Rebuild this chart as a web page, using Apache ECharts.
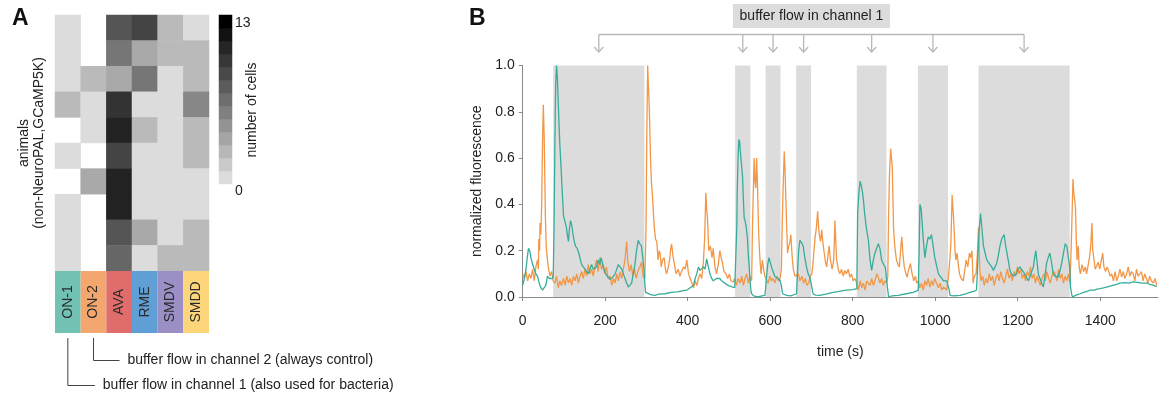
<!DOCTYPE html>
<html><head><meta charset="utf-8">
<script src="https://cdn.jsdelivr.net/npm/echarts@6/dist/echarts.min.js"></script>
<style>html,body{margin:0;padding:0;background:#fff}#c{width:1161px;height:400px}</style>
</head><body><div id="c"></div>
<script>
// ---------- Panel A data ----------
const cellTypes = ['ON-1', 'ON-2', 'AVA', 'RME', 'SMDV', 'SMDD'];
const cellColors = ['#72c2b4', '#f3a76f', '#e06c6c', '#5f9fd5', '#9c8fc6', '#fdd67c'];
const animalRows = ['1','2','3','4','5','6','7','8','9','10'];
// number of cells per animal (rows) and cell type (columns); null = not observed
const cellCounts = [
  [0, null, 8, 9, 2, 0],
  [0, null, 6, 3, 2, 2],
  [0, 2, 3, 6, 0, 2],
  [2, 0, 10, 0, 0, 5],
  [null, 0, 11, 2, 0, 2],
  [0, null, 9, 0, 0, 2],
  [null, 3, 11, 0, 0, 0],
  [0, null, 11, 0, 0, 0],
  [0, null, 8, 3, 0, 2],
  [0, null, 7, 0, 2, 2]
];
const countMax = 13;
const colorbarSteps = ['0','1','2','3','4','5','6','7','8','9','10','11','12'];

// ---------- Panel B data ----------
// buffer flow in channel 1 intervals (s)
const bufferOn = [[74, 295], [515, 552], [589, 625], [663, 699], [810, 882], [958, 1031], [1105, 1326]];
const xTicks = { min: 0, max: 1540, interval: 200 };
// ON-2 trace (orange): [time (s), normalized fluorescence]
const on2Trace = [
[0,.10],[4,.08],[8,.11],[12,.07],[16,.10],[20,.08],[24,.12],[28,.07],[32,.13],[36,.16],[38,.12],[39,.25],[41,.20],[42,.32],[44,.27],[46,.40],[48,.66],[50,.83],[52,.70],[53,.59],[55,.35],[57,.22],[60,.16],[62,.13],[66,.09],[70,.11],[74,.07],[78,.06],[82,.09],[86,.04],[90,.07],[94,.05],[99,.08],[103,.05],[107,.09],[111,.06],[115,.08],[119,.05],[123,.09],[127,.07],[131,.10],[135,.06],[139,.09],[143,.11],[147,.08],[151,.12],[155,.09],[159,.14],[163,.10],[167,.12],[171,.09],[175,.13],[179,.16],[183,.11],[187,.17],[191,.12],[195,.14],[199,.10],[203,.13],[207,.08],[212,.09],[216,.05],[220,.08],[224,.06],[228,.10],[232,.07],[236,.11],[240,.08],[244,.12],[248,.16],[252,.24],[255,.15],[259,.11],[263,.14],[267,.09],[271,.12],[275,.08],[279,.11],[284,.13],[288,.15],[292,.09],[296,.08],[299,.30],[301,.73],[303,1.0],[305,.90],[307,.81],[310,.59],[312,.50],[314,.45],[317,.36],[319,.30],[322,.25],[325,.24],[328,.16],[331,.20],[333,.19],[336,.13],[339,.16],[343,.17],[346,.12],[349,.10],[353,.13],[356,.16],[359,.21],[361,.23],[364,.18],[368,.14],[372,.10],[377,.12],[381,.09],[385,.11],[390,.13],[394,.12],[398,.16],[402,.10],[406,.08],[410,.06],[414,.04],[418,.07],[422,.05],[426,.08],[430,.10],[434,.08],[438,.15],[441,.25],[444,.45],[446,.38],[448,.34],[451,.20],[455,.22],[459,.17],[462,.21],[466,.13],[470,.10],[474,.14],[478,.20],[481,.17],[484,.15],[488,.11],[493,.10],[497,.08],[501,.10],[505,.07],[510,.065],[514,.08],[518,.05],[522,.08],[527,.06],[531,.09],[535,.05],[539,.08],[543,.10],[547,.06],[551,.09],[555,.07],[557,.30],[559,.45],[561,.60],[563,.50],[565,.47],[567,.60],[569,.50],[570,.42],[572,.28],[574,.20],[576,.14],[578,.10],[581,.16],[584,.12],[587,.09],[591,.086],[595,.06],[599,.09],[603,.07],[607,.08],[611,.06],[616,.09],[620,.07],[624,.08],[627,.12],[629,.30],[631,.45],[634,.63],[636,.55],[638,.42],[640,.30],[642,.19],[645,.22],[648,.24],[650,.27],[653,.18],[656,.12],[660,.09],[664,.086],[668,.10],[672,.07],[677,.09],[681,.06],[685,.08],[689,.05],[693,.06],[697,.09],[701,.10],[704,.15],[707,.22],[709,.26],[712,.30],[715,.37],[717,.31],[719,.27],[722,.24],[725,.29],[728,.23],[731,.19],[734,.15],[737,.13],[740,.18],[743,.22],[746,.16],[750,.12],[754,.16],[757,.33],[759,.24],[761,.16],[765,.12],[769,.10],[773,.12],[777,.09],[781,.115],[785,.10],[789,.12],[793,.086],[797,.10],[801,.07],[805,.08],[810,.06],[814,.03],[818,.07],[822,.04],[826,.06],[830,.03],[834,.07],[838,.065],[842,.05],[846,.08],[850,.05],[854,.07],[858,.10],[862,.086],[866,.06],[870,.08],[874,.05],[878,.07],[882,.06],[885,.086],[887,.35],[889,.52],[892,.64],[894,.60],[896,.56],[899,.30],[902,.22],[906,.16],[910,.14],[913,.13],[916,.20],[919,.26],[922,.18],[925,.13],[929,.10],[932,.086],[936,.12],[940,.145],[944,.10],[948,.07],[952,.09],[955,.06],[959,.07],[963,.04],[967,.06],[971,.03],[975,.07],[979,.05],[983,.08],[987,.043],[991,.07],[995,.05],[999,.08],[1003,.06],[1008,.04],[1012,.06],[1016,.03],[1020,.043],[1024,.05],[1028,.03],[1032,.086],[1035,.15],[1038,.23],[1041,.44],[1043,.38],[1045,.33],[1048,.20],[1050,.16],[1053,.19],[1056,.14],[1059,.10],[1063,.08],[1068,.07],[1072,.12],[1075,.16],[1079,.13],[1083,.19],[1086,.17],[1089,.20],[1092,.06],[1095,.09],[1099,.10],[1102,.18],[1105,.30],[1108,.12],[1111,.07],[1115,.09],[1119,.05],[1123,.08],[1127,.06],[1131,.10],[1135,.07],[1139,.09],[1143,.05],[1147,.08],[1151,.10],[1155,.07],[1159,.11],[1163,.08],[1167,.06],[1171,.09],[1175,.12],[1179,.08],[1183,.10],[1187,.07],[1191,.11],[1195,.09],[1199,.13],[1203,.10],[1207,.12],[1211,.08],[1215,.10],[1219,.07],[1223,.11],[1227,.09],[1231,.13],[1235,.08],[1239,.10],[1243,.06],[1247,.09],[1251,.07],[1255,.05],[1259,.08],[1263,.10],[1267,.07],[1271,.11],[1275,.08],[1279,.06],[1283,.09],[1287,.11],[1291,.10],[1295,.07],[1299,.12],[1303,.08],[1307,.10],[1311,.06],[1315,.09],[1319,.07],[1323,.10],[1327,.06],[1329,.18],[1331,.30],[1334,.51],[1336,.45],[1338,.42],[1340,.39],[1342,.25],[1344,.16],[1347,.22],[1349,.13],[1352,.10],[1356,.14],[1360,.11],[1364,.13],[1367,.10],[1371,.14],[1374,.17],[1377,.22],[1380,.32],[1382,.20],[1385,.16],[1388,.12],[1391,.115],[1395,.15],[1399,.12],[1403,.16],[1406,.19],[1409,.13],[1413,.11],[1417,.13],[1420,.115],[1424,.09],[1428,.10],[1432,.07],[1436,.11],[1440,.07],[1444,.09],[1448,.12],[1452,.086],[1456,.11],[1460,.08],[1464,.10],[1468,.13],[1472,.09],[1476,.11],[1480,.10],[1484,.07],[1488,.12],[1492,.09],[1496,.09],[1500,.11],[1504,.07],[1508,.10],[1512,.08],[1516,.06],[1520,.09],[1524,.07],[1529,.06],[1533,.08],[1537,.05]
];
// ON-1 trace (teal)
const on1Trace = [
[0,.05],[4,.08],[8,.12],[11,.17],[14,.21],[17,.20],[20,.17],[24,.14],[28,.12],[32,.10],[36,.09],[40,.06],[44,.04],[48,.03],[52,.035],[56,.05],[60,.09],[64,.08],[68,.085],[72,.08],[74,.09],[76,.30],[78,.66],[80,.92],[82,1.0],[84,.95],[86,.85],[88,.75],[90,.66],[93,.56],[96,.45],[99,.35],[102,.33],[106,.30],[109,.26],[111,.24],[113,.29],[116,.33],[119,.31],[122,.27],[125,.24],[128,.22],[132,.21],[136,.19],[140,.16],[143,.14],[147,.13],[151,.12],[155,.11],[159,.10],[163,.12],[167,.14],[171,.12],[175,.115],[179,.13],[183,.16],[187,.14],[190,.17],[193,.15],[197,.12],[201,.10],[205,.09],[208,.086],[212,.075],[216,.07],[220,.09],[224,.10],[228,.12],[232,.14],[236,.13],[240,.12],[244,.10],[248,.08],[252,.06],[256,.043],[260,.05],[264,.06],[268,.10],[272,.14],[276,.20],[280,.245],[284,.23],[288,.22],[291,.17],[294,.12],[296,.06],[298,.02],[302,.014],[310,.01],[320,.007],[330,.012],[345,.014],[360,.02],[375,.022],[390,.028],[398,.03],[406,.04],[414,.05],[418,.08],[422,.10],[426,.13],[430,.115],[434,.12],[438,.13],[442,.12],[446,.165],[450,.13],[454,.10],[458,.08],[462,.07],[466,.075],[470,.08],[474,.08],[478,.08],[482,.07],[486,.065],[490,.06],[494,.06],[498,.05],[502,.05],[506,.045],[510,.043],[514,.04],[517,.036],[519,.30],[520,.45],[522,.60],[524,.68],[526,.67],[528,.62],[530,.58],[533,.52],[535,.42],[537,.34],[539,.33],[542,.30],[545,.25],[547,.18],[549,.13],[551,.08],[553,.03],[555,.014],[560,.005],[570,0],[580,.005],[587,.007],[589,.04],[591,.086],[594,.14],[597,.17],[600,.15],[603,.13],[607,.11],[611,.09],[615,.086],[619,.08],[624,.07],[627,.05],[630,.014],[640,.007],[650,.005],[664,.014],[666,.10],[669,.20],[672,.245],[676,.235],[680,.22],[684,.17],[688,.13],[692,.10],[696,.086],[700,.05],[704,.014],[710,.008],[720,.007],[735,.012],[753,.02],[770,.025],[785,.03],[800,.032],[810,.036],[812,.36],[815,.45],[818,.50],[821,.48],[824,.45],[827,.40],[829,.36],[833,.30],[838,.245],[842,.16],[846,.115],[850,.16],[854,.19],[858,.21],[862,.23],[866,.21],[870,.16],[875,.14],[879,.13],[883,.06],[887,0],[895,.005],[910,.007],[930,.014],[947,.02],[959,.03],[961,.20],[963,.40],[966,.38],[968,.33],[971,.25],[975,.17],[979,.22],[983,.26],[987,.25],[991,.27],[995,.22],[999,.17],[1004,.13],[1008,.10],[1012,.10],[1016,.08],[1020,.07],[1024,.065],[1028,.07],[1032,.065],[1034,.03],[1036,.007],[1045,.005],[1060,.007],[1072,.012],[1084,.02],[1095,.025],[1100,.03],[1102,.10],[1104,.19],[1107,.30],[1110,.36],[1113,.30],[1117,.22],[1121,.19],[1125,.16],[1129,.15],[1133,.145],[1137,.13],[1141,.115],[1145,.12],[1149,.145],[1153,.18],[1157,.22],[1161,.25],[1164,.26],[1167,.27],[1170,.23],[1174,.19],[1178,.15],[1181,.115],[1185,.10],[1189,.09],[1193,.086],[1197,.10],[1201,.12],[1205,.13],[1209,.12],[1213,.115],[1217,.10],[1221,.085],[1226,.07],[1230,.09],[1234,.11],[1238,.13],[1241,.17],[1244,.20],[1247,.15],[1250,.10],[1254,.08],[1258,.06],[1262,.043],[1266,.09],[1270,.145],[1274,.17],[1278,.19],[1282,.15],[1286,.10],[1290,.09],[1294,.086],[1298,.086],[1302,.11],[1306,.14],[1310,.18],[1315,.23],[1319,.22],[1323,.22],[1326,.13],[1328,.043],[1331,.01],[1333,0],[1340,.007],[1351,.014],[1360,.02],[1370,.025],[1375,.03],[1385,.03],[1395,.035],[1400,.036],[1410,.04],[1420,.045],[1430,.05],[1440,.055],[1448,.06],[1460,.062],[1470,.06],[1481,.065],[1490,.063],[1500,.06],[1513,.06],[1520,.055],[1530,.05],[1537,.045]
];

// ---------- build ----------
const FONT = "'Liberation Sans', Arial, Helvetica, sans-serif";
const TXT = '#222';
const AX = '#8a8a8a';
const chart = echarts.init(document.getElementById('c'), null, { renderer: 'canvas' });

const heatData = [];
cellCounts.forEach((row, r) => row.forEach((v, c) => { if (v !== null) heatData.push([c, r, v]); }));
const barData = cellTypes.map((n, i) => ({ value: 1, name: n, itemStyle: { color: cellColors[i] } }));
const cbData = colorbarSteps.map((s, i) => [0, i, i * countMax / (colorbarSteps.length - 1)]);

const hiddenCat = (data, gi, extra) => Object.assign({ type: 'category', data, gridIndex: gi, show: false, boundaryGap: true }, extra || {});

const option = {
  animation: false,
  textStyle: { fontFamily: FONT },
  grid: [
    { left: 55, top: 15, width: 154, height: 256 },
    { left: 219, top: 15, width: 13, height: 169 },
    { left: 55, top: 271, width: 154, height: 62 },
    { left: 522.7, top: 65.5, width: 635.25, height: 231.5 }
  ],
  visualMap: {
    show: false, type: 'continuous', min: 0, max: countMax, seriesIndex: [0, 1],
    inRange: { color: ['#dcdcdc', '#000000'] }
  },
  xAxis: [
    hiddenCat(cellTypes, 0),
    hiddenCat(['cb'], 1),
    hiddenCat(cellTypes, 2),
    {
      type: 'value', gridIndex: 3, min: xTicks.min, max: xTicks.max, interval: xTicks.interval, offset: 10,
      axisLine: { show: true, lineStyle: { color: AX, width: 1 } },
      axisTick: { show: true, length: 4, lineStyle: { color: AX } },
      axisLabel: { fontSize: 14, color: TXT, margin: 7, showMaxLabel: false, fontFamily: FONT, formatter: v => String(v) },
      splitLine: { show: false },
      name: 'time (s)', nameLocation: 'middle', nameGap: 38,
      nameTextStyle: { fontSize: 14, color: TXT, fontFamily: FONT }
    }
  ],
  yAxis: [
    {
      type: 'category', data: animalRows, gridIndex: 0, inverse: true,
      axisLine: { show: false }, axisTick: { show: false }, axisLabel: { show: false },
      name: 'animals\n(non-NeuroPAL,GCaMP5K)', nameLocation: 'middle', nameRotate: 90, nameGap: 8,
      nameTextStyle: { fontSize: 14, color: TXT, lineHeight: 15, fontFamily: FONT }
    },
    hiddenCat(colorbarSteps, 1),
    { type: 'value', gridIndex: 2, min: 0, max: 1, show: false },
    {
      type: 'value', gridIndex: 3, min: 0, max: 1, interval: 0.2,
      axisLine: { show: true, lineStyle: { color: AX, width: 1 } },
      axisTick: { show: true, length: 4, lineStyle: { color: AX } },
      axisLabel: { fontSize: 14, color: TXT, margin: 8, formatter: v => v.toFixed(1), fontFamily: FONT },
      splitLine: { show: false },
      name: 'normalized fluorescence', nameLocation: 'middle', nameRotate: 90, nameGap: 36,
      nameTextStyle: { fontSize: 14, color: TXT, fontFamily: FONT }
    }
  ],
  series: [
    { type: 'heatmap', xAxisIndex: 0, yAxisIndex: 0, data: heatData, itemStyle: { borderWidth: 0 }, emphasis: { disabled: true } },
    { type: 'heatmap', xAxisIndex: 1, yAxisIndex: 1, data: cbData, itemStyle: { borderWidth: 0 }, emphasis: { disabled: true } },
    {
      type: 'bar', xAxisIndex: 2, yAxisIndex: 2, data: barData, barWidth: '100%', silent: true,
      label: { show: true, position: 'inside', rotate: 90, formatter: '{b}', fontSize: 14, color: '#2a2a2a', fontFamily: FONT }
    },
    {
      type: 'line', xAxisIndex: 3, yAxisIndex: 3, data: [[0, 0]], showSymbol: false, lineStyle: { opacity: 0 }, z: 1, silent: true,
      markArea: {
        silent: true, itemStyle: { color: '#dcdcdc', opacity: 1 },
        data: bufferOn.map(b => [{ xAxis: b[0], yAxis: 0 }, { xAxis: b[1], yAxis: 1 }])
      }
    },
    { type: 'line', name: 'ON-2', xAxisIndex: 3, yAxisIndex: 3, data: on2Trace, showSymbol: false, z: 2, lineStyle: { color: '#f29748', width: 1.3 } },
    { type: 'line', name: 'ON-1', xAxisIndex: 3, yAxisIndex: 3, data: on1Trace, showSymbol: false, z: 3, lineStyle: { color: '#36ad9b', width: 1.3 } }
  ]
};
chart.setOption(option);

// ---------- annotations ----------
const g = [];
g.push({ type: 'text', x: 12, y: 7, style: { text: 'A', font: 'bold 23px ' + FONT, fill: '#111' } });
g.push({ type: 'text', x: 469, y: 7, style: { text: 'B', font: 'bold 23px ' + FONT, fill: '#111' } });
// colorbar labels
g.push({ type: 'text', x: 235, y: 23, style: { text: String(countMax), font: '14px ' + FONT, fill: TXT, verticalAlign: 'middle' } });
g.push({ type: 'text', x: 235, y: 191, style: { text: '0', font: '14px ' + FONT, fill: TXT, verticalAlign: 'middle' } });
g.push({ type: 'text', x: 252, y: 110, rotation: Math.PI / 2, style: { text: 'number of cells', font: '14px ' + FONT, fill: TXT, align: 'center', verticalAlign: 'middle' } });
// channel annotations under ON-1 / ON-2
const on1x = chart.convertToPixel({ xAxisIndex: 2 }, 'ON-1');
const on2x = chart.convertToPixel({ xAxisIndex: 2 }, 'ON-2');
const annStroke = { stroke: '#444', lineWidth: 1, fill: null };
g.push({ type: 'polyline', shape: { points: [[on1x, 338], [on1x, 385.5], [on1x + 27, 385.5]] }, style: annStroke });
g.push({ type: 'polyline', shape: { points: [[on2x, 338], [on2x, 360.5], [on2x + 26, 360.5]] }, style: annStroke });
g.push({ type: 'text', x: on1x + 35, y: 385, style: { text: 'buffer flow in channel 1 (also used for bacteria)', font: '14px ' + FONT, fill: TXT, verticalAlign: 'middle' } });
g.push({ type: 'text', x: on2x + 34, y: 360, style: { text: 'buffer flow in channel 2 (always control)', font: '14px ' + FONT, fill: TXT, verticalAlign: 'middle' } });
// bracket with arrows over buffer intervals
const centers = bufferOn.map(b => chart.convertToPixel({ gridIndex: 3 }, [(b[0] + b[1]) / 2, 1])[0]);
const brY = 34.5, arY = 52;
const brStroke = { stroke: '#b8b8b8', lineWidth: 1.3, fill: null };
g.push({ type: 'line', shape: { x1: centers[0], y1: brY, x2: centers[centers.length - 1], y2: brY }, style: brStroke });
centers.forEach(cx => {
  g.push({ type: 'line', shape: { x1: cx, y1: brY, x2: cx, y2: arY }, style: brStroke });
  g.push({ type: 'polyline', shape: { points: [[cx - 4.5, arY - 5], [cx, arY], [cx + 4.5, arY - 5]] }, style: brStroke });
});
const mid = (centers[0] + centers[centers.length - 1]) / 2;
g.push({ type: 'rect', shape: { x: mid - 78.5, y: 4, width: 157, height: 24 }, style: { fill: '#dcdcdc' } });
g.push({ type: 'text', x: mid, y: 16.5, style: { text: 'buffer flow in channel 1', font: '14px ' + FONT, fill: TXT, align: 'center', verticalAlign: 'middle' } });
chart.setOption({ graphic: g });
</script>
</body></html>
